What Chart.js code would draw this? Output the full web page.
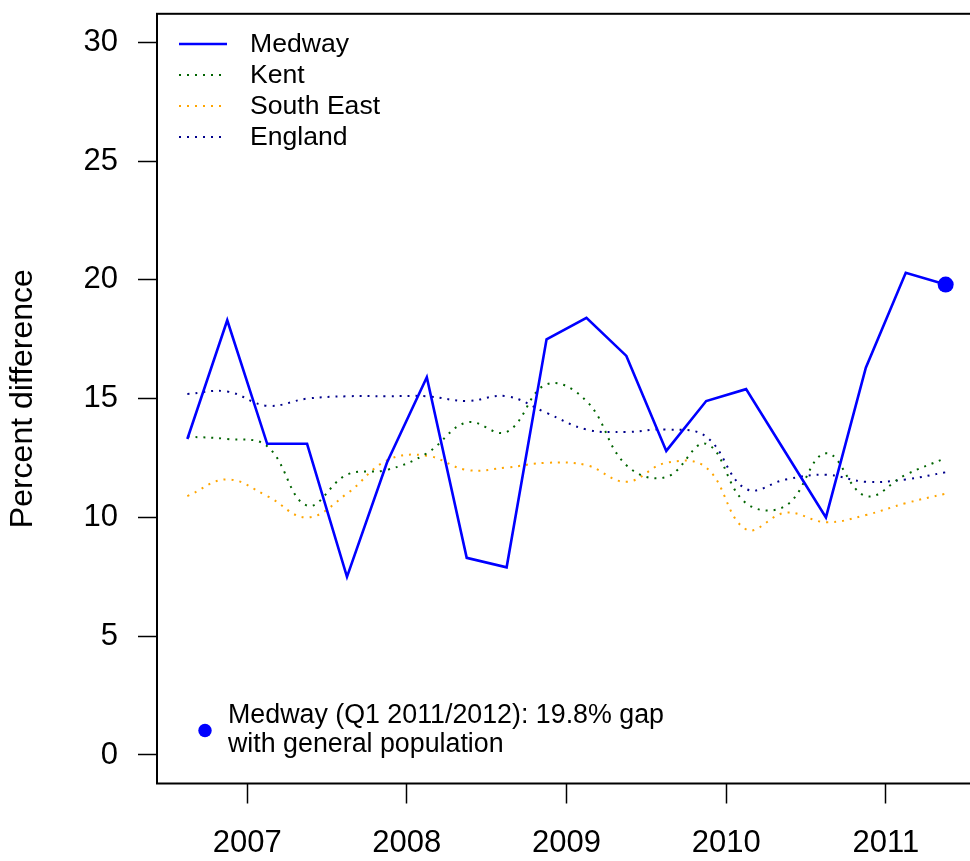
<!DOCTYPE html>
<html>
<head>
<meta charset="utf-8">
<script src="https://cdn.jsdelivr.net/npm/chart.js@4/dist/chart.umd.min.js"></script>
<style>
  html, body { margin: 0; padding: 0; background: #fff; overflow: hidden; }
  #wrap { width: 1000px; height: 861px; }
</style>
</head>
<body>
<div id="wrap"><canvas id="gapChart" width="1000" height="861"></canvas></div>
<script>
// quarter positions (decimal years) for the series
const quarters = [2006.625, 2006.875, 2007.125, 2007.375, 2007.625, 2007.875, 2008.125, 2008.375,
                  2008.625, 2008.875, 2009.125, 2009.375, 2009.625, 2009.875, 2010.125, 2010.375,
                  2010.625, 2010.875, 2011.125, 2011.375];
const medway    = [13.3, 18.3, 13.1, 13.1, 7.5, 12.3, 15.9, 8.3, 7.9, 17.5, 18.4, 16.8, 12.8, 14.9, 15.4, 12.7, 10.0, 16.3, 20.3, 19.8];
const kent      = [13.4, 13.3, 13.0, 10.5, 11.8, 12.0, 12.7, 14.0, 13.6, 15.6, 14.9, 12.2, 11.7, 13.1, 10.6, 10.5, 12.7, 10.9, 11.8, 12.5];
const southEast = [10.9, 11.6, 10.9, 10.0, 11.0, 12.4, 12.6, 12.0, 12.1, 12.3, 12.2, 11.5, 12.3, 12.1, 9.5, 10.2, 9.8, 10.1, 10.6, 11.0];
const england   = [15.2, 15.3, 14.7, 15.0, 15.1, 15.1, 15.1, 14.9, 15.1, 14.4, 13.7, 13.6, 13.7, 13.4, 11.2, 11.6, 11.8, 11.5, 11.6, 11.9];
const yearTicks = [2007, 2008, 2009, 2010, 2011];
const pctTicks  = [0, 5, 10, 15, 20, 25, 30];
const noteLines = ['Medway (Q1 2011/2012): 19.8% gap', 'with general population'];

const FONT = '"Liberation Sans", Arial, Helvetica, sans-serif';

function toPoints(values) {
  return values.map((v, i) => ({ x: quarters[i], y: v }));
}

// box, legend and the note in the lower left corner
const extrasPlugin = {
  id: 'extras',
  afterDraw(chart) {
    const c = chart.ctx;
    const a = chart.chartArea;
    c.save();
    c.strokeStyle = '#000';
    c.lineWidth = 2;
    c.strokeRect(a.left, a.top, a.right - a.left, a.bottom - a.top);

    // legend
    c.font = '26.6px ' + FONT;
    c.textBaseline = 'middle';
    c.textAlign = 'left';
    chart.data.datasets.forEach((ds, i) => {
      const y = 44 + i * 31;
      c.beginPath();
      c.strokeStyle = ds.borderColor;
      c.lineWidth = ds.borderWidth;
      c.setLineDash(ds.borderDash || []);
      c.moveTo(179, y);
      c.lineTo(227, y);
      c.stroke();
      c.setLineDash([]);
      c.fillStyle = '#000';
      c.fillText(ds.label, 250, y + 1);
    });

    // note
    c.font = '26.8px ' + FONT;
    c.beginPath();
    c.fillStyle = '#0000ff';
    c.arc(205, 730.5, 6.7, 0, Math.PI * 2);
    c.fill();
    c.fillStyle = '#000';
    c.fillText(noteLines[0], 228, 716);
    c.fillText(noteLines[1], 228, 745);
    c.restore();
  }
};

const lastIdx = medway.length - 1;

function noPad(s) {
  s.paddingTop = 0; s.paddingBottom = 0; s.paddingLeft = 0; s.paddingRight = 0;
}

new Chart(document.getElementById('gapChart'), {
  type: 'line',
  data: {
    datasets: [
      {
        label: 'Medway', data: toPoints(medway),
        borderColor: '#0000ff', borderWidth: 2.6, tension: 0,
        pointRadius: ctx => ctx.dataIndex === lastIdx ? 8 : 0,
        pointBackgroundColor: '#0000ff', pointBorderWidth: 0
      },
      {
        label: 'Kent', data: toPoints(kent),
        borderColor: '#006400', borderWidth: 2, borderDash: [2, 6], tension: 0.4, pointRadius: 0
      },
      {
        label: 'South East', data: toPoints(southEast),
        borderColor: '#ffa500', borderWidth: 2, borderDash: [2, 6], tension: 0.4, pointRadius: 0
      },
      {
        label: 'England', data: toPoints(england),
        borderColor: '#00008b', borderWidth: 2, borderDash: [2, 6], tension: 0.4, pointRadius: 0
      }
    ]
  },
  options: {
    responsive: false,
    animation: false,
    events: [],
    layout: { padding: { left: 0, top: 13.8, right: 24, bottom: 0 } },
    plugins: { legend: { display: false }, tooltip: { enabled: false } },
    scales: {
      x: {
        type: 'linear',
        min: 2006.435,
        max: 2011.565,
        afterBuildTicks: s => { s.ticks = yearTicks.map(v => ({ value: v })); },
        afterFit: s => { s.height = 77.5; noPad(s); },
        border: { display: false },
        grid: { drawOnChartArea: false, tickLength: 20, tickWidth: 1.5, tickColor: '#000' },
        ticks: {
          color: '#000', font: { family: FONT, size: 31 }, padding: 21,
          maxRotation: 0, autoSkip: false, callback: v => String(v)
        }
      },
      y: {
        min: -1.2,
        max: 31.2,
        afterBuildTicks: s => { s.ticks = pctTicks.map(v => ({ value: v })); },
        afterFit: s => { s.width = 157; noPad(s); },
        border: { display: false },
        grid: { drawOnChartArea: false, tickLength: 19, tickWidth: 1.5, tickColor: '#000' },
        ticks: {
          color: '#000', font: { family: FONT, size: 31 }, padding: 20,
          callback: v => String(v)
        },
        title: {
          display: true, text: 'Percent difference', color: '#000',
          font: { family: FONT, size: 32 }, padding: { top: 4, bottom: 0 }
        }
      }
    }
  },
  plugins: [extrasPlugin]
});
</script>
</body>
</html>
